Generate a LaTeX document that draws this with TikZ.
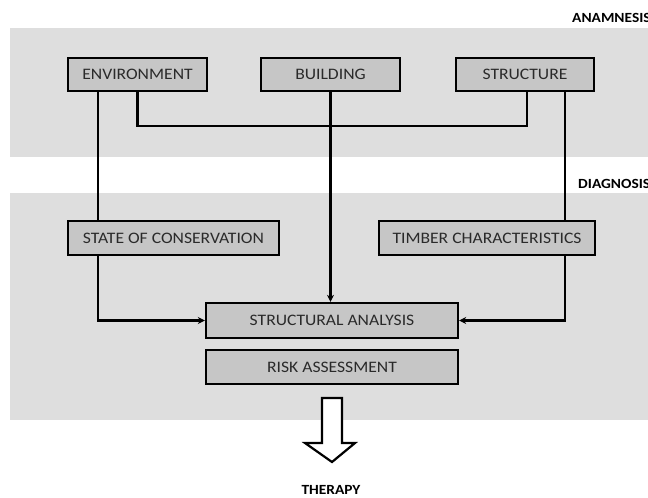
\documentclass[tikz,border=0pt]{standalone}
\usepackage{fontspec}
\setmainfont{Carlito}[FakeStretch=1.1]
\usetikzlibrary{arrows.meta}
\definecolor{bandgray}{HTML}{DEDEDE}
\definecolor{boxgray}{HTML}{C6C6C6}
\definecolor{txtgray}{HTML}{2A2A2A}
\tikzset{
  stepbox/.style={draw=black, line width=2.3pt, fill=boxgray, text=txtgray,
    inner sep=0pt, minimum height=34pt, font=\fontsize{16}{19}\selectfont},
  link/.style={line width=2.2pt, draw=black},
  arr/.style={link, -{Stealth[length=7pt,width=7pt]}},
  phase/.style={font=\fontsize{14}{16}\selectfont\bfseries, text=black, inner sep=0pt}
}
\begin{document}
\begin{tikzpicture}[x=1pt,y=-1pt]
  \useasboundingbox (0,0) rectangle (648,498);
  \fill[white] (0,0) rectangle (648,498);
  % phase bands
  \fill[bandgray] (10,28) rectangle (648,157);
  \fill[bandgray] (10,193) rectangle (648,420);
  % phase labels
  \node[phase, anchor=west] (lanam) at (572,18) {ANAMNESIS};
  \node[phase, anchor=west] (ldiag) at (578,184) {DIAGNOSIS};
  \node[phase] (lther) at (331,490) {THERAPY};
  % boxes
  \node[stepbox, minimum width=139pt, minimum height=33pt] (env) at (137.5,74.5) {ENVIRONMENT};
  \node[stepbox, minimum width=139pt, minimum height=33pt] (bld) at (330.5,74.5) {BUILDING};
  \node[stepbox, minimum width=138pt, minimum height=33pt] (str) at (525,74.5) {STRUCTURE};
  \node[stepbox, minimum width=211pt] (soc) at (173.5,238) {STATE OF CONSERVATION};
  \node[stepbox, minimum width=216pt] (tim) at (487,238) {TIMBER CHARACTERISTICS};
  \node[stepbox, minimum width=252pt, minimum height=35pt] (sa) at (332,320.5) {STRUCTURAL ANALYSIS};
  \node[stepbox, minimum width=252pt] (ra) at (332,367) {RISK ASSESSMENT};
  % connectors
  \coordinate (envA) at ([xshift=-39.5pt]env.south);
  \coordinate (strA) at ([xshift=2pt]str.south);
  \coordinate (strB) at ([xshift=40pt]str.south);
  \draw[link] (env.south) -- (env.south |- 0,126) -- (strA |- 0,126) -- (strA);
  \draw[link] (envA) -- (envA |- soc.north);
  \draw[link] (strB) -- (strB |- tim.north);
  \draw[arr] (bld.south) -- (bld.south |- sa.north);
  \draw[arr] (envA |- soc.south) |- (sa.west);
  \draw[arr] (strB |- tim.south) |- (sa.east);
  % hollow arrow towards therapy
  \draw[line width=2.2pt, fill=white, line join=miter]
    (322,398) -- (342,398) -- (342,443) -- (355,443) -- (332,462)
    -- (305,443) -- (322,443) -- cycle;
\end{tikzpicture}
\end{document}
